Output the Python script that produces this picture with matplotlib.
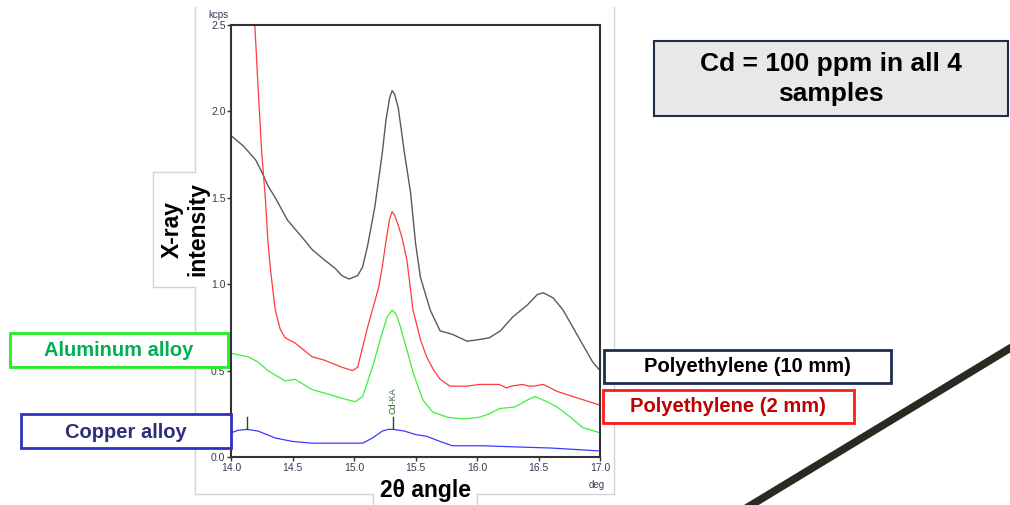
import matplotlib.pyplot as plt
from matplotlib.patches import Rectangle
from matplotlib.lines import Line2D

plt.rcParams['font.family'] = ['Liberation Sans', 'DejaVu Sans']

W, H = 1010, 505

# scan traces, 2theta (deg) vs intensity (kcps)
pe10_x = [14.0, 14.1, 14.2, 14.25, 14.3, 14.36, 14.46, 14.58, 14.66, 14.76, 14.85, 14.9, 14.96, 15.03,
          15.07, 15.11, 15.17, 15.23, 15.26, 15.29, 15.31, 15.33, 15.36, 15.41, 15.46, 15.5, 15.54,
          15.62, 15.70, 15.80, 15.92, 16.02, 16.10, 16.19, 16.29, 16.41, 16.49, 16.54, 16.62, 16.70,
          16.78, 16.86, 16.94, 17.0]
pe10_y = [1.86, 1.80, 1.72, 1.65, 1.57, 1.50, 1.37, 1.27, 1.20, 1.14, 1.09, 1.05, 1.03, 1.05,
          1.10, 1.22, 1.45, 1.76, 1.95, 2.08, 2.12, 2.10, 2.02, 1.76, 1.53, 1.24, 1.04,
          0.85, 0.73, 0.71, 0.67, 0.68, 0.69, 0.73, 0.81, 0.88, 0.94, 0.95, 0.92, 0.85,
          0.75, 0.65, 0.55, 0.50]

pe2_x = [14.19, 14.22, 14.25, 14.28, 14.30, 14.32, 14.36, 14.40, 14.44, 14.52, 14.66, 14.76, 14.9,
         14.99, 15.03, 15.11, 15.20, 15.23, 15.26, 15.29, 15.31, 15.33, 15.36, 15.39, 15.43, 15.48,
         15.54, 15.59, 15.65, 15.70, 15.78, 15.92, 16.02, 16.10, 16.18, 16.24, 16.28, 16.37, 16.42,
         16.46, 16.54, 16.65, 16.78, 17.0]
pe2_y = [2.55, 2.14, 1.76, 1.49, 1.25, 1.09, 0.85, 0.74, 0.69, 0.66, 0.58, 0.56, 0.52,
         0.50, 0.52, 0.75, 0.98, 1.10, 1.25, 1.38, 1.42, 1.40, 1.34, 1.27, 1.14, 0.85,
         0.68, 0.58, 0.50, 0.45, 0.41, 0.41, 0.42, 0.42, 0.42, 0.40, 0.41, 0.42, 0.41,
         0.41, 0.42, 0.38, 0.35, 0.30]

al_x = [14.0, 14.14, 14.22, 14.30, 14.44, 14.52, 14.66, 14.76, 14.9, 15.01, 15.07, 15.15, 15.23,
        15.27, 15.31, 15.34, 15.37, 15.43, 15.48, 15.56, 15.64, 15.76, 15.89, 16.02, 16.10, 16.18,
        16.31, 16.41, 16.47, 16.57, 16.65, 16.76, 16.86, 17.0]
al_y = [0.60, 0.58, 0.55, 0.50, 0.44, 0.45, 0.39, 0.37, 0.34, 0.32, 0.35, 0.52, 0.72,
        0.81, 0.85, 0.83, 0.77, 0.62, 0.49, 0.33, 0.26, 0.23, 0.22, 0.23, 0.25, 0.28,
        0.29, 0.33, 0.35, 0.32, 0.29, 0.23, 0.17, 0.14]

cu_x = [14.0, 14.06, 14.13, 14.22, 14.36, 14.50, 14.66, 14.76, 14.90, 15.07, 15.15, 15.23, 15.28,
        15.32, 15.41, 15.50, 15.59, 15.70, 15.80, 16.05, 16.33, 16.60, 17.0]
cu_y = [0.14, 0.155, 0.16, 0.15, 0.11, 0.09, 0.08, 0.08, 0.08, 0.08, 0.11, 0.15, 0.16,
        0.16, 0.15, 0.13, 0.12, 0.09, 0.065, 0.065, 0.058, 0.052, 0.035]

# peak markers
peak_pos = [14.13, 15.32]
peak_base = [0.16, 0.17]
peak_top = [0.23, 0.23]
peak_names = ['', 'Cd-KA']

x_ticks = [14.0, 14.5, 15.0, 15.5, 16.0, 16.5, 17.0]
y_ticks = [0.0, 0.5, 1.0, 1.5, 2.0, 2.5]


def fx(px):
    return px / W


def fy(py):
    return 1 - py / H


def box(x0, y0, x1, y1, edge, face='white', lw=2.0):
    fig.add_artist(Rectangle((fx(x0), fy(y1)), fx(x1) - fx(x0), fy(y0) - fy(y1),
                             transform=fig.transFigure, facecolor=face, edgecolor=edge,
                             linewidth=lw, zorder=5))


def hline(x0, x1, y, color='#d4d4d4', lw=1.0):
    fig.add_artist(Line2D([fx(x0), fx(x1)], [fy(y), fy(y)], transform=fig.transFigure,
                          color=color, linewidth=lw, zorder=0))


def vline(x, y0, y1, color='#d4d4d4', lw=1.0):
    fig.add_artist(Line2D([fx(x), fx(x)], [fy(y0), fy(y1)], transform=fig.transFigure,
                          color=color, linewidth=lw, zorder=0))


fig = plt.figure(figsize=(10.1, 5.05), dpi=100)
ax = fig.add_axes([fx(231), fy(457), fx(600) - fx(231), fy(25) - fy(457)])

ax.plot(pe10_x, pe10_y, color='#5a5a5a', lw=1.0)
ax.plot(pe2_x, pe2_y, color='#ff3b3b', lw=0.9)
ax.plot(al_x, al_y, color='#3cf03c', lw=0.9)
ax.plot(cu_x, cu_y, color='#3a3aff', lw=0.9)

for p, b, t, name in zip(peak_pos, peak_base, peak_top, peak_names):
    ax.plot([p, p], [b, t], color='#1f4f1f', lw=1.0)
    if name:
        ax.text(p, t + 0.02, name, rotation=90, ha='center', va='bottom',
                fontsize=6.5, color='#2f5f2f')

ax.set_xlim(14.0, 17.0)
ax.set_ylim(0.0, 2.5)
ax.set_xticks(x_ticks)
ax.set_yticks(y_ticks)
ax.set_xticklabels([f'{v:.1f}' for v in x_ticks])
ax.set_yticklabels([f'{v:.1f}' for v in y_ticks])
ax.tick_params(direction='out', length=3, width=1, pad=1, labelsize=7.5, colors='#333333',
               labelcolor='#3a3a55')
for s in ax.spines.values():
    s.set_color('#333333')
    s.set_linewidth(1.5)

fig.text(fx(218), fy(15), 'kcps', fontsize=7, color='#3a3a55', ha='center', va='center')
fig.text(fx(597), fy(485), 'deg', fontsize=7, color='#3a3a55', ha='center', va='center')

# light frame around the scan
vline(195, 7, 172)
vline(195, 287, 494)
vline(614, 7, 494)
hline(195, 373, 494)
hline(477, 614, 494)
vline(373, 494, 505)
vline(477, 494, 505)
hline(153, 195, 172)
hline(153, 195, 287)
vline(153, 172, 287)

fig.text(fx(185), fy(229), 'X-ray\nintensity', rotation=90, ha='center', va='center',
         fontsize=16.5, fontweight='bold', linespacing=1.1)
fig.text(fx(425), fy(490), '2θ angle', ha='center', va='center', fontsize=16.5, fontweight='bold')

# sample labels
box(654, 41, 1008, 116, '#1f2d4d', face='#e8e8e8', lw=1.5)
fig.text(fx(831), fy(79), 'Cd = 100 ppm in all 4\nsamples', ha='center', va='center',
         fontsize=19, fontweight='bold', linespacing=1.3, zorder=6)

box(10, 333, 228, 367, '#22ee22')
fig.text(fx(119), fy(351), 'Aluminum alloy', ha='center', va='center', fontsize=14.5,
         fontweight='bold', color='#00b050', zorder=6)

box(21, 414, 231, 448, '#3030c0')
fig.text(fx(126), fy(432), 'Copper alloy', ha='center', va='center', fontsize=14.5,
         fontweight='bold', color='#2e2e7a', zorder=6)

box(604, 350, 891, 383, '#1f2d4d')
fig.text(fx(747), fy(367), 'Polyethylene (10 mm)', ha='center', va='center', fontsize=14.5,
         fontweight='bold', color='black', zorder=6)

box(603, 390, 854, 423, '#ff1a1a')
fig.text(fx(728), fy(407), 'Polyethylene (2 mm)', ha='center', va='center', fontsize=14.5,
         fontweight='bold', color='#c00000', zorder=6)

# slanted divider in the corner
fig.add_artist(Line2D([fx(748), fx(1012)], [fy(507), fy(347)], transform=fig.transFigure,
                      color='#2b2a22', linewidth=5.5, zorder=4))

fig.savefig('out.png', dpi=100)
